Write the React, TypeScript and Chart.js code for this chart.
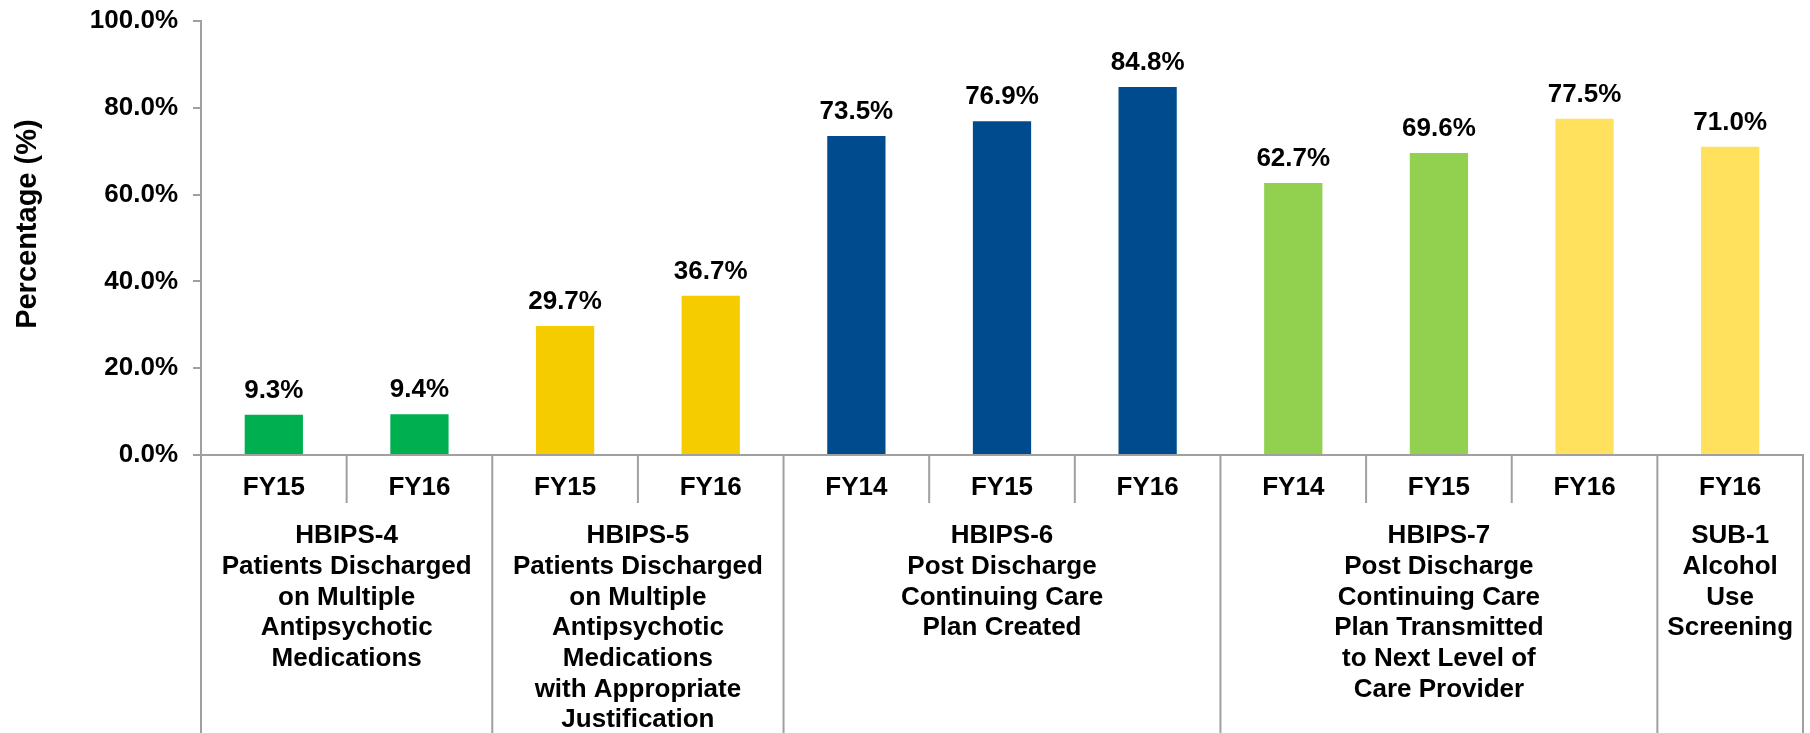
import React, { useEffect, useRef } from 'react';
import { Chart, registerables } from 'chart.js';
Chart.register(...registerables);

const FONT = "Arial, 'Liberation Sans', sans-serif";

const categories = ['FY15', 'FY16', 'FY15', 'FY16', 'FY14', 'FY15', 'FY16', 'FY14', 'FY15', 'FY16', 'FY16'];
const values = [9.3, 9.4, 29.7, 36.7, 73.5, 76.9, 84.8, 62.7, 69.6, 77.5, 71.0];
const barColors = ['#00B050', '#00B050', '#F5CC00', '#F5CC00', '#004B8D', '#004B8D', '#004B8D', '#92D050', '#92D050', '#FFE15E', '#FFE15E'];
const groupSpans = [[0, 1], [2, 3], [4, 6], [7, 9], [10, 10]];
const groupLabels = [
  ['HBIPS-4', 'Patients Discharged', 'on Multiple', 'Antipsychotic', 'Medications'],
  ['HBIPS-5', 'Patients Discharged', 'on Multiple', 'Antipsychotic', 'Medications', 'with Appropriate', 'Justification'],
  ['HBIPS-6', 'Post Discharge', 'Continuing Care', 'Plan Created'],
  ['HBIPS-7', 'Post Discharge', 'Continuing Care', 'Plan Transmitted', 'to Next Level of', 'Care Provider'],
  ['SUB-1', 'Alcohol', 'Use', 'Screening'],
];
const yTitle = 'Percentage (%)';

const groupAxisPlugin = {
  id: 'groupAxis',
  afterDraw(chart: any) {
    const { ctx, chartArea, scales } = chart;
    const x = scales.x;
    const bottom = chart.height;
    const half = (x.getPixelForValue(1) - x.getPixelForValue(0)) / 2;
    const starts = new Set(groupSpans.map((g) => g[0]));
    ctx.save();
    ctx.strokeStyle = '#A0A0A0';
    ctx.lineWidth = 2;
    for (let i = 0; i <= categories.length; i++) {
      const xb = i < categories.length ? x.getPixelForValue(i) - half : x.getPixelForValue(i - 1) + half;
      const full = i === 0 || i === categories.length || starts.has(i);
      ctx.beginPath();
      ctx.moveTo(xb, chartArea.bottom);
      ctx.lineTo(xb, full ? bottom : chartArea.bottom + 48);
      ctx.stroke();
    }
    ctx.fillStyle = '#000';
    ctx.font = `bold 26px ${FONT}`;
    ctx.textAlign = 'center';
    ctx.textBaseline = 'middle';
    categories.forEach((c, i) => ctx.fillText(c, x.getPixelForValue(i), chartArea.bottom + 33));
    groupSpans.forEach(([a, b], gi) => {
      const cx = (x.getPixelForValue(a) + x.getPixelForValue(b)) / 2;
      groupLabels[gi].forEach((line, li) => ctx.fillText(line, cx, chartArea.bottom + 81 + li * 30.7));
    });
    const meta = chart.getDatasetMeta(0);
    ctx.textBaseline = 'alphabetic';
    meta.data.forEach((bar: any, i: number) => ctx.fillText(values[i].toFixed(1) + '%', bar.x, bar.y - 17));
    // y-axis title
    ctx.font = `bold 29px ${FONT}`;
    ctx.textBaseline = 'middle';
    ctx.translate(28, chartArea.top + (chartArea.bottom - chartArea.top) * 0.468);
    ctx.rotate(-Math.PI / 2);
    ctx.fillText(yTitle, 0, 0);
    ctx.restore();
  },
};

export default function App() {
  const ref = useRef<HTMLCanvasElement>(null);
  useEffect(() => {
    if (!ref.current) return;
    const chart = new Chart(ref.current, {
      type: 'bar',
      data: {
        labels: categories,
        datasets: [
          {
            data: values,
            backgroundColor: barColors,
            barPercentage: 0.4,
            categoryPercentage: 1.0,
          },
        ],
      },
      options: {
        animation: false,
        responsive: true,
        maintainAspectRatio: false,
        layout: { padding: { top: 21, right: 7, left: 0, bottom: 0 } },
        plugins: { legend: { display: false }, tooltip: { enabled: false } },
        scales: {
          x: {
            grid: { display: false },
            border: { display: true, color: '#A0A0A0', width: 2 },
            ticks: { display: false },
            afterFit(s: any) {
              s.height = 278;
              s.paddingLeft = 0;
              s.paddingRight = 0;
            },
          },
          y: {
            min: 0,
            max: 100,
            ticks: {
              stepSize: 20,
              callback: (v: any) => Number(v).toFixed(1) + '%',
              font: { size: 26, weight: 'bold', family: FONT },
              color: '#000',
              padding: 15,
            },
            grid: { drawOnChartArea: false, drawTicks: true, tickLength: 8, color: '#A0A0A0', lineWidth: 2 },
            border: { display: true, color: '#A0A0A0', width: 2 },
            title: { display: false, text: yTitle },
            afterFit(s: any) {
              s.width = 201;
              s.paddingTop = 12;
              s.paddingBottom = 12;
            },
          },
        },
      },
      plugins: [groupAxisPlugin],
    });
    return () => chart.destroy();
  }, []);
  return (
    <div style={{ position: 'fixed', left: 0, top: 0, width: 1810, height: 733, background: '#fff' }}>
      <canvas ref={ref} />
    </div>
  );
}
